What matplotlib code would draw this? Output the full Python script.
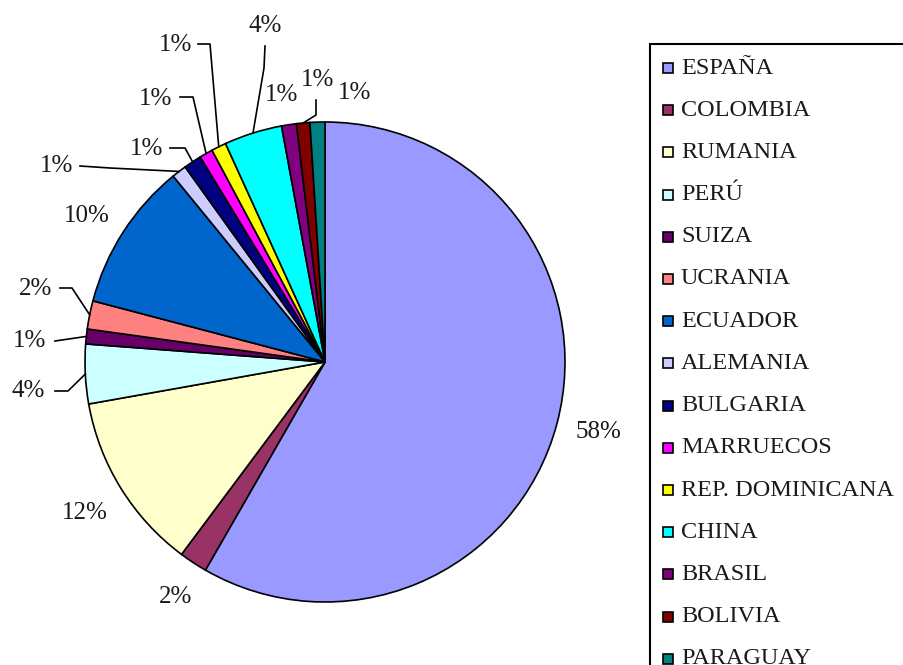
import numpy as np
import matplotlib.pyplot as plt
from matplotlib.patches import Rectangle

paises = ['ESPAÑA', 'COLOMBIA', 'RUMANIA', 'PERÚ', 'SUIZA', 'UCRANIA', 'ECUADOR',
          'ALEMANIA', 'BULGARIA', 'MARRUECOS', 'REP. DOMINICANA', 'CHINA',
          'BRASIL', 'BOLIVIA', 'PARAGUAY']
porcentajes = [58.3, 1.9, 12.0, 4.0, 1.0, 1.9, 10.0, 1.0, 1.2, 0.9, 1.0, 3.9, 1.0, 0.9, 1.0]
colores = ['#9999FF', '#993366', '#FFFFCC', '#CCFFFF', '#660066', '#FF8080', '#0066CC',
           '#CCCCFF', '#000080', '#FF00FF', '#FFFF00', '#00FFFF', '#800080', '#800000',
           '#008080']

W, H = 904, 665
CX, CY, R = 325, 362, 240

# label text position (pixels) and optional leader elbow (pixels)
layout = [
    ((598, 432), None),
    ((176, 597), None),
    ((85, 513), None),
    ((28, 391), [(55, 391), (68, 391)]),
    ((30, 341), [(55, 341)]),
    ((36, 289), [(60, 288), (72, 288)]),
    ((87, 216), None),
    ((57, 166), [(80, 166), (110, 168)]),
    ((147, 149), [(170, 148), (185, 148)]),
    ((156, 99), [(180, 97), (193, 97)]),
    ((176, 45), [(198, 44), (210, 44)]),
    ((265, 26), [(265, 46), (264, 68)]),
    ((282, 95), None),
    ((318, 80), [(316, 100), (316, 115)]),
    ((355, 93), None),
]

plt.rcParams['font.family'] = ['Liberation Serif', 'DejaVu Serif']


def to_data(p):
    return (p[0] - CX) / R, (CY - p[1]) / R


def fig_frac(x, y):
    return x / W, 1 - y / H


fig = plt.figure(figsize=(W / 100, H / 100), dpi=100)
ax = fig.add_axes([(CX - R) / W, (H - CY - R) / H, 2 * R / W, 2 * R / H])
wedges, _ = ax.pie(porcentajes, colors=colores, startangle=90, counterclock=False,
                   radius=1.0, wedgeprops=dict(edgecolor='black', linewidth=1.2))
ax.set_xlim(-1, 1)
ax.set_ylim(-1, 1)
ax.axis('off')

for w, val, (txt_pos, elbow) in zip(wedges, porcentajes, layout):
    tx, ty = to_data(txt_pos)
    ax.text(tx, ty, '%d%%' % round(val), ha='center', va='center', fontsize=18,
            color='#1a1a1a', clip_on=False)
    if elbow:
        ang = np.deg2rad((w.theta1 + w.theta2) / 2)
        edge = (np.cos(ang), np.sin(ang))
        pts = [to_data(p) for p in elbow] + [edge]
        xs, ys = zip(*pts)
        ax.plot(xs, ys, color='black', linewidth=1.2, clip_on=False)

# legend drawn by hand to match the boxed layout
x0, y0 = fig_frac(650, 44)
x1, y1 = fig_frac(920, 690)
fig.patches.append(Rectangle((x0, y1), x1 - x0, y0 - y1, transform=fig.transFigure,
                             facecolor='white', edgecolor='black', linewidth=1.5))
for i, (nombre, c) in enumerate(zip(paises, colores)):
    yc = 68 + 42.2 * i
    sx, sy = fig_frac(663, yc + 5)
    fig.patches.append(Rectangle((sx, sy), 10 / W, 10 / H, transform=fig.transFigure,
                                 facecolor=c, edgecolor='black', linewidth=1.2))
    tx, ty = fig_frac(681, yc)
    fig.text(tx, ty, nombre, ha='left', va='center', fontsize=17.5, color='#1a1a1a')

fig.savefig('out.png', dpi=100)
